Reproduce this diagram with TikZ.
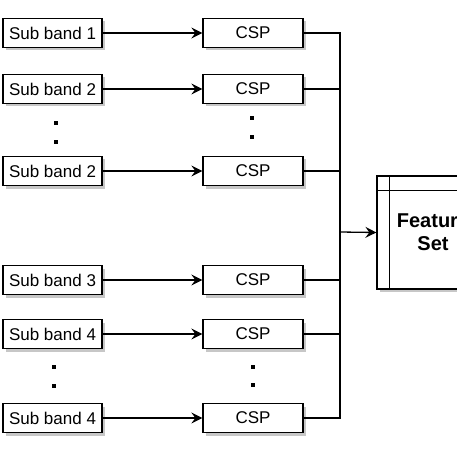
\documentclass[tikz,border=0pt]{standalone}
\usepackage{fontspec}
\setmainfont{Liberation Sans}
\usepackage{tikz}
\usetikzlibrary{arrows.meta,positioning,shadows,calc}
\tikzset{
  band/.style={draw, line width=1.3pt, fill=white, minimum width=99pt, minimum height=29pt, inner sep=0pt, font=\fontsize{17}{20}\selectfont, drop shadow={shadow xshift=3pt, shadow yshift=-3pt, fill=black!22, opacity=1}},
  csp/.style={band, minimum width=100pt},
  store/.style={band, minimum width=112pt, minimum height=113pt, align=center, font=\fontsize{20}{23}\selectfont\bfseries},
  gap/.style={fill=black, minimum size=4pt, inner sep=0pt},
  flow/.style={-{Stealth[length=11pt, width=11pt, inset=4pt]}, line width=1.3pt},
  bus/.style={line width=1.3pt},
}
\begin{document}
\begin{tikzpicture}[x=1pt,y=-1pt]
  \useasboundingbox (0,0) rectangle (457,457);
  \clip (0,0) rectangle (457,457);
  % Sub bands
  \node[band] (s1) at (52.5,33) {Sub band 1};
  \node[band] (s2) at (52.5,89) {Sub band 2};
  \node[band] (s3) at (52.5,171) {Sub band 2};
  \node[band] (s4) at (52.5,280) {Sub band 3};
  \node[band] (s5) at (52.5,334) {Sub band 4};
  \node[band] (s6) at (52.5,418) {Sub band 4};
  % CSP blocks
  \node[csp] (c1) at (253,33) {CSP};
  \node[csp] (c2) at (253,89) {CSP};
  \node[csp] (c3) at (253,171) {CSP};
  \node[csp] (c4) at (253,280) {CSP};
  \node[csp] (c5) at (253,334) {CSP};
  \node[csp] (c6) at (253,418) {CSP};
  % Continuation dots
  \foreach \x/\y [count=\i] in {56/123, 56/142, 54/367, 54/386, 252/118, 252/137, 253/367, 253/385} {\node[gap] (d\i) at (\x,\y) {};}
  % Feature set
  \node[store] (fs) at (433,232.5) {Feature\\Set};
  \draw[line width=1.3pt] ($(fs.north west)+(13,0)$) -- ($(fs.south west)+(13,0)$);
  \draw[line width=1.3pt] ($(fs.north west)+(0,15)$) -- ($(fs.north east)+(0,15)$);
  % Arrows
  \foreach \i in {1,...,6} {\draw[flow] (s\i) -- (c\i);}
  % Bus
  \coordinate (bus) at (340,232);
  \draw[bus] (c1.east) -- (c1.east -| bus) -- (c6.east -| bus) -- (c6.east);
  \foreach \i in {2,...,5} {\draw[bus] (c\i.east) -- (c\i.east -| bus);}
  \draw[flow] (bus) -- (fs.west);
\end{tikzpicture}
\end{document}
